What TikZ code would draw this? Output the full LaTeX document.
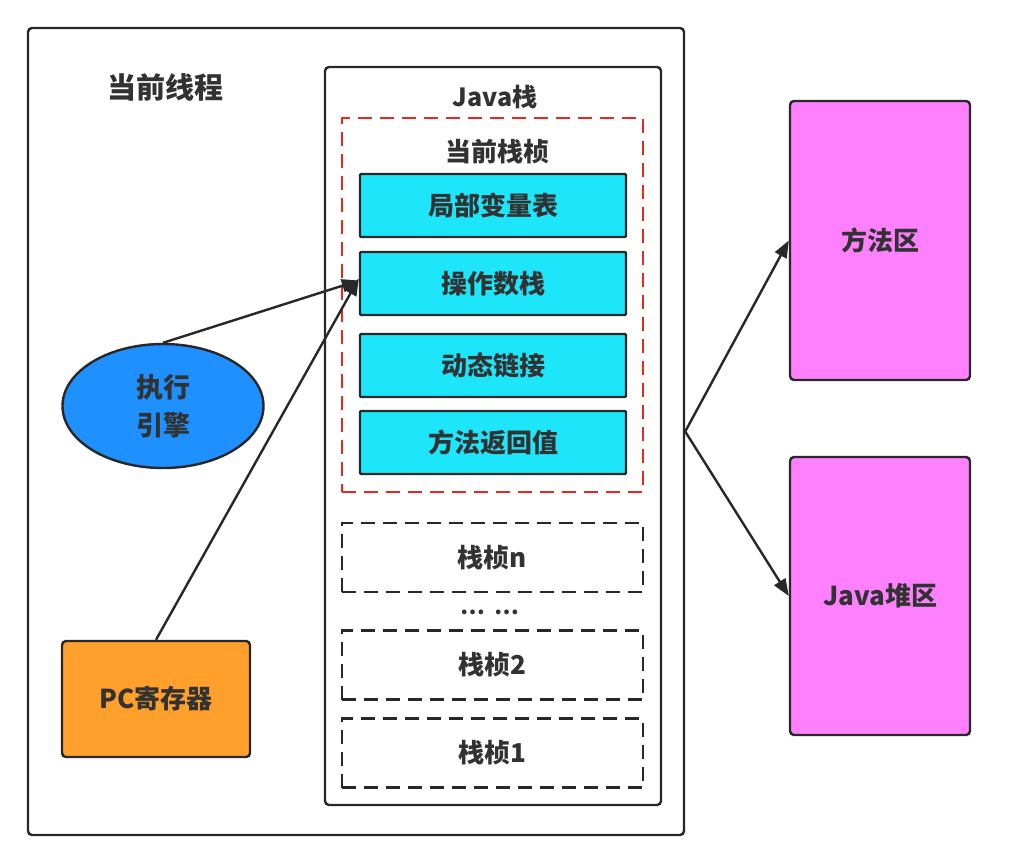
\documentclass[tikz,border=0pt]{standalone}
\usepackage{fontspec}
\setmainfont{Noto Sans CJK SC}
\usetikzlibrary{arrows.meta,shapes.geometric}
\definecolor{cyanbox}{RGB}{30,230,250}
\definecolor{bluell}{RGB}{30,144,255}
\definecolor{orangebox}{RGB}{255,160,45}
\definecolor{magbox}{RGB}{255,128,255}
\definecolor{ink}{RGB}{40,40,40}
\definecolor{txt}{RGB}{50,50,50}
\definecolor{dashred}{RGB}{230,40,30}
\begin{document}
\begin{tikzpicture}[x=1pt,y=-1pt,
  box/.style={draw=ink,line width=2.4pt,rounded corners=4pt,inner sep=0pt,text=txt,font=\bfseries\fontsize{26}{30}\selectfont},
  part/.style={box,rounded corners=1pt,fill=cyanbox,minimum width=266pt,minimum height=63pt},
  frame/.style={draw=ink,line width=2.4pt,dash pattern=on 14pt off 8pt,minimum width=301pt,minimum height=69pt,inner sep=0pt,text=txt,font=\bfseries\fontsize{26}{30}\selectfont},
  area/.style={box,fill=magbox,minimum width=180pt,minimum height=279pt},
  conn/.style={draw=ink,line width=2.4pt,-{Triangle[length=17pt,width=13pt]}},
  lbl/.style={text=txt,font=\bfseries\fontsize{26}{30}\selectfont,inner sep=0pt}]
\useasboundingbox (0,0) rectangle (1027,847);
\fill[white] (0,0) rectangle (1027,847);
% outer thread box
\node[box,minimum width=656pt,minimum height=807pt] (thread) at (356,431.5) {};
\node[lbl,font=\bfseries\fontsize{29}{32}\selectfont] (tlbl) at (165,87) {当前线程};
% java stack
\node[box,minimum width=336pt,minimum height=738pt] (jstack) at (493,436) {};
\node[lbl,font=\bfseries\fontsize{25}{28}\selectfont] (jlbl) at (495,97) {Java栈};
% current frame
\node[draw=dashred,line width=2.4pt,dash pattern=on 14pt off 8pt,minimum width=301pt,minimum height=374pt,inner sep=0pt] (cur) at (492.5,305) {};
\node[lbl] (clbl) at (497,152) {当前栈桢};
\node[part] (lv) at (493,205.5) {局部变量表};
\node[part] (op) at (493,283.5) {操作数栈};
\node[part] (dl) at (493,365.5) {动态链接};
\node[part] (rv) at (493,442.5) {方法返回值};
% other frames
\node[frame] (fn) at (492.5,557.5) {栈桢n};
\node[lbl,font=\bfseries\fontsize{22}{24}\selectfont] (dots) at (490,612) {⋯\hspace{10pt}⋯};
\node[frame] (f2) at (492.5,665) {栈桢2};
\node[frame] (f1) at (492.5,753) {栈桢1};
% engine and pc
\node[ellipse,draw=ink,line width=2.4pt,fill=bluell,minimum width=201pt,minimum height=124pt,inner sep=0pt,text=txt,font=\bfseries\fontsize{27}{38}\selectfont,align=center] (eng) at (163,406) {执行\\引擎};
\node[box,fill=orangebox,minimum width=188pt,minimum height=116pt] (pc) at (156,699) {PC寄存器};
% areas
\node[area] (ma) at (880,240.5) {方法区};
\node[area,minimum height=278pt] (heap) at (880,596) {Java堆区};
% connectors
\draw[conn] (eng.north) -- ([yshift=3pt]op.west);
\draw[conn] (pc.north) -- ([yshift=5pt]op.west);
\draw[conn] (thread.east) -- (ma.west);
\draw[conn] (thread.east) -- (heap.west);
\end{tikzpicture}
\end{document}
